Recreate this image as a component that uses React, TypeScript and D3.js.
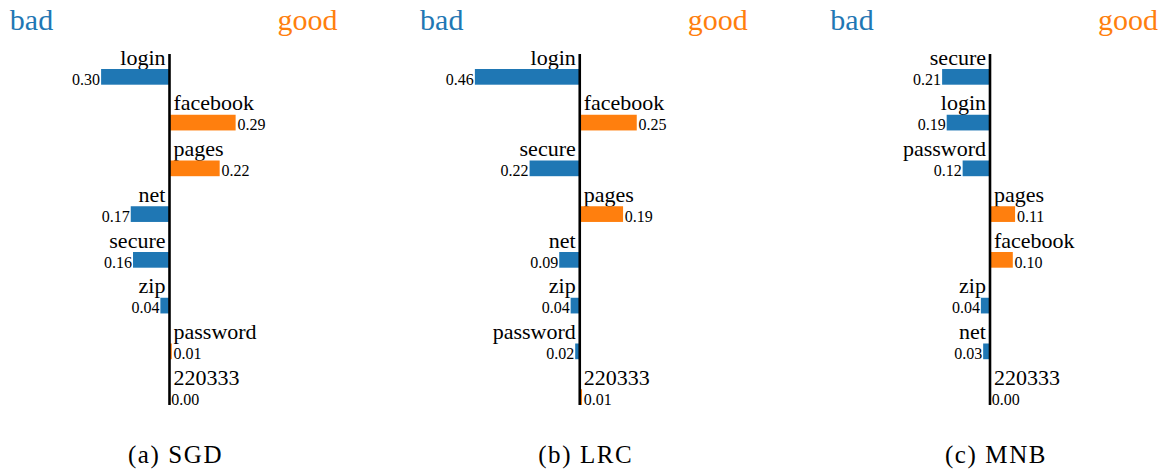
import React from "react";
import * as d3 from "d3";

// Feature weights per classifier (negative = "bad", positive = "good")
const sgdWords = ["login", "facebook", "pages", "net", "secure", "zip", "password", "220333"];
const sgdWeights = [-0.3, 0.29, 0.22, -0.17, -0.16, -0.04, 0.01, 0.0];

const lrcWords = ["login", "facebook", "secure", "pages", "net", "zip", "password", "220333"];
const lrcWeights = [-0.46, 0.25, -0.22, 0.19, -0.09, -0.04, -0.02, 0.01];

const mnbWords = ["secure", "login", "password", "pages", "facebook", "zip", "net", "220333"];
const mnbWeights = [-0.21, -0.19, -0.12, 0.11, 0.1, -0.04, -0.03, 0.0];

const captions = ["(a) SGD", "(b) LRC", "(c) MNB"];
const titles = ["bad", "good"];

const COLORS = ["#1f77b4", "#ff7f0e"];
const FONT = "Liberation Serif, DejaVu Serif, serif";

type PanelProps = { words: string[]; weights: number[]; axisX: number; caption: string };

function Panel({ words, weights, axisX, caption }: PanelProps) {
  const x = d3.scaleLinear().domain([0, 1]).range([0, 228]);
  const rowTop = d3.scaleLinear().domain([0, words.length]).range([54, 54 + words.length * 45.75]);
  const barOffset = 15;
  const barH = 15.7;
  const axisBottom = rowTop(words.length - 1) + barOffset + barH;

  return (
    <g>
      <text x={axisX - 138} y={30} fontSize={30} textAnchor="middle" fill={COLORS[0]} style={{ fontFamily: FONT }}>
        {titles[0]}
      </text>
      <text x={axisX + 138} y={30} fontSize={30} textAnchor="middle" fill={COLORS[1]} style={{ fontFamily: FONT }}>
        {titles[1]}
      </text>
      {words.map((w, i) => {
        const v = weights[i];
        const neg = v < 0;
        const len = x(Math.abs(v));
        const top = rowTop(i) + barOffset;
        const barX = neg ? axisX - len : axisX;
        const valX = neg ? axisX - len - 1 : axisX + len + 1.8;
        return (
          <g key={w}>
            <text
              x={neg ? axisX - 4 : axisX + 4}
              y={rowTop(i) + 10.5}
              fontSize={22}
              textAnchor={neg ? "end" : "start"}
              style={{ fontFamily: FONT }}
              fill="#000"
            >
              {w}
            </text>
            <rect x={barX} y={top} width={len} height={barH} fill={neg ? COLORS[0] : COLORS[1]} />
            <text
              x={valX}
              y={top + barH}
              fontSize={16}
              textAnchor={neg ? "end" : "start"}
              style={{ fontFamily: FONT }}
              fill="#000"
            >
              {Math.abs(v).toFixed(2)}
            </text>
          </g>
        );
      })}
      <line x1={axisX} x2={axisX} y1={54} y2={axisBottom} stroke="#000" strokeWidth={2.6} />
      <text
        x={axisX + 6}
        y={462.5}
        fontSize={25}
        letterSpacing={1.6}
        textAnchor="middle"
        style={{ fontFamily: FONT }}
        fill="#000"
      >
        {caption}
      </text>
    </g>
  );
}

export default function App() {
  const panels = [
    { words: sgdWords, weights: sgdWeights },
    { words: lrcWords, weights: lrcWeights },
    { words: mnbWords, weights: mnbWeights },
  ];
  return (
    <svg
      width={1168}
      height={470}
      style={{ position: "absolute", left: 0, top: 0, background: "#fff" }}
    >
      {panels.map((p, k) => (
        <Panel key={k} words={p.words} weights={p.weights} axisX={169.5 + 410.25 * k} caption={captions[k]} />
      ))}
    </svg>
  );
}
